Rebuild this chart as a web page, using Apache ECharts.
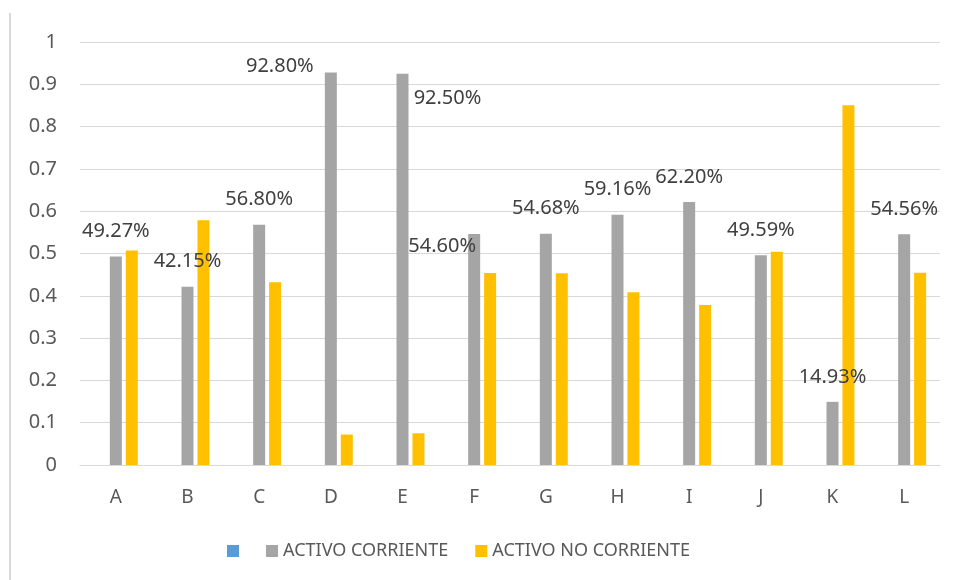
<!DOCTYPE html>
<html>
<head>
<meta charset="utf-8">
<script src="https://cdn.jsdelivr.net/npm/echarts@6/dist/echarts.min.js"></script>
<style>
  html, body { margin: 0; padding: 0; background: #fff; }
  #chart { width: 956px; height: 580px; }
</style>
</head>
<body>
<div id="chart"></div>
<script>
// categories and values
const categories = ['A', 'B', 'C', 'D', 'E', 'F', 'G', 'H', 'I', 'J', 'K', 'L'];
const activoCorriente = [0.4927, 0.4215, 0.568, 0.928, 0.925, 0.546, 0.5468, 0.5916, 0.622, 0.4959, 0.1493, 0.5456];
const activoNoCorriente = [0.5073, 0.5785, 0.432, 0.072, 0.075, 0.454, 0.4532, 0.4084, 0.378, 0.5041, 0.8507, 0.4544];
// the blue series is in the legend but has no bars
const serie1 = [null, null, null, null, null, null, null, null, null, null, null, null];
const yTickLabels = ['0', '0.1', '0.2', '0.3', '0.4', '0.5', '0.6', '0.7', '0.8', '0.9', '1'];

// a few labels were dragged away from their bar in the original
const labelShift = { 3: [-51, 19], 4: [45, 50], 5: [-32, 37] };

const gray = '#A5A5A5';
const orange = '#FFC000';
const blue = '#5B9BD5';
const font = 'Noto Sans';

const grayData = activoCorriente.map((v, i) => {
  if (labelShift[i]) return { value: v, label: { offset: labelShift[i] } };
  return v;
});

const chart = echarts.init(document.getElementById('chart'));

const option = {
  animation: false,
  textStyle: { fontFamily: font },
  grid: { left: 80, right: 16, top: 42, bottom: 115 },
  legend: {
    left: 222,
    top: 537,
    icon: 'rect',
    itemWidth: 12,
    itemHeight: 12,
    itemGap: 27,
    data: ['Serie1', 'ACTIVO CORRIENTE', 'ACTIVO NO CORRIENTE'],
    formatter: n => (n === 'Serie1' ? '' : n),
    textStyle: { fontFamily: font, fontSize: 18, color: '#595959' }
  },
  xAxis: {
    type: 'category',
    data: categories,
    axisTick: { show: false },
    axisLine: { lineStyle: { color: '#d9d9d9', width: 1 } },
    axisLabel: { fontFamily: font, fontSize: 19, color: '#595959', margin: 23 }
  },
  yAxis: {
    type: 'value',
    min: 0,
    max: 1,
    interval: 0.1,
    axisLine: { show: false },
    axisTick: { show: false },
    splitLine: { lineStyle: { color: '#d9d9d9', width: 1 } },
    axisLabel: {
      fontFamily: font, fontSize: 20, color: '#595959', margin: 23,
      formatter: v => yTickLabels[Math.round(v * 10)]
    }
  },
  series: [
    {
      name: 'Serie1',
      type: 'bar',
      barWidth: 12,
      barGap: '33%',
      itemStyle: { color: blue },
      data: serie1
    },
    {
      name: 'ACTIVO CORRIENTE',
      type: 'bar',
      barWidth: 12,
      barGap: '33%',
      itemStyle: { color: gray },
      label: {
        show: true,
        position: 'top',
        distance: 15,
        fontFamily: font,
        fontSize: 20,
        lineHeight: 20,
        color: '#404040',
        formatter: p => (p.value * 100).toFixed(2) + '%'
      },
      data: grayData
    },
    {
      name: 'ACTIVO NO CORRIENTE',
      type: 'bar',
      barWidth: 12,
      barGap: '33%',
      itemStyle: { color: orange },
      data: activoNoCorriente
    }
  ],
  graphic: [
    {
      type: 'line',
      shape: { x1: 10, y1: 13, x2: 10, y2: 580 },
      style: { stroke: '#d9d9d9', lineWidth: 2 }
    }
  ]
};

chart.setOption(option);
</script>
</body>
</html>
